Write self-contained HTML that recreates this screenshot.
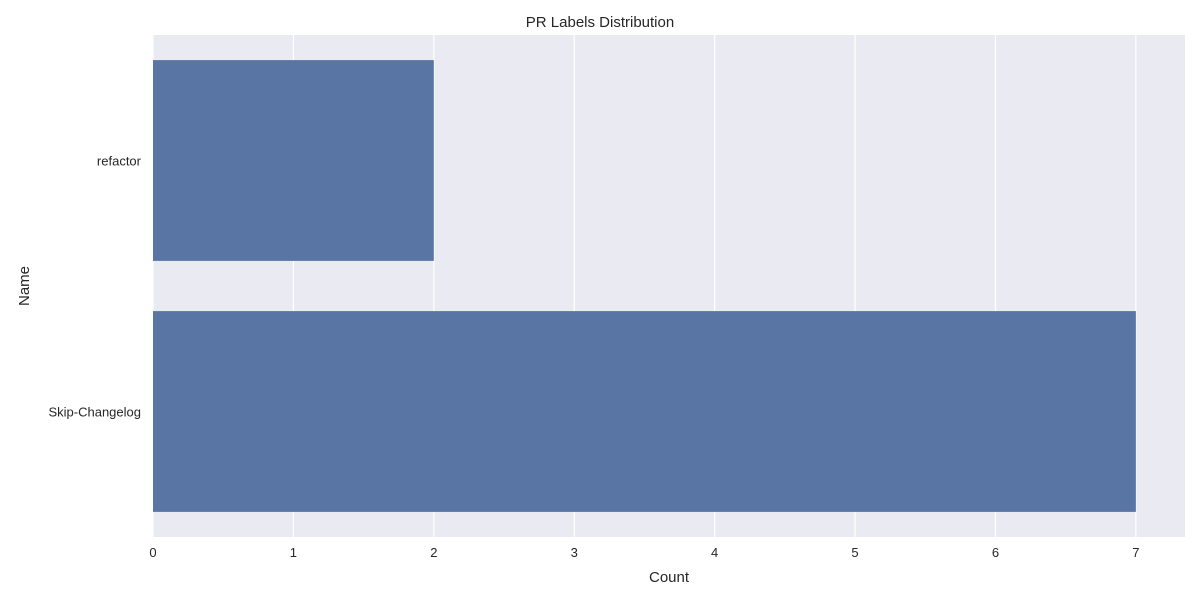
<!DOCTYPE html>
<html><head><meta charset="utf-8"><style>
body{margin:0;background:#fff;font-family:"Liberation Sans","DejaVu Sans",sans-serif;}
</style></head><body>
<svg id="chart" width="1200" height="600" xmlns="http://www.w3.org/2000/svg">
<rect x="153" y="35" width="1032" height="502" fill="#eaeaf2"/>
<g id="grid"></g><g id="bars"></g><g id="xticks"></g><g id="yticks"></g>
<text x="600" y="27" text-anchor="middle" font-size="15" fill="#262626">PR Labels Distribution</text>
<text x="669" y="582" text-anchor="middle" font-size="15" fill="#262626">Count</text>
<text x="29" y="286" text-anchor="middle" font-size="15" fill="#262626" transform="rotate(-90 29 286)">Name</text>
</svg>
<script>
const categories = ["refactor", "Skip-Changelog"];
const counts = [2, 7];
const xTicks = [0, 1, 2, 3, 4, 5, 6, 7];
const NS = "http://www.w3.org/2000/svg";
const L = 153, R = 1185, T = 35, B = 537;
const xMax = Math.max(...counts) * 1.05;
const x = v => L + v / xMax * (R - L);
const band = (B - T) / categories.length;
const yc = i => T + band * (i + 0.5);
const bw = band * 0.8;
function mk(tag, attrs, parent) { const e = document.createElementNS(NS, tag); for (const k in attrs) e.setAttribute(k, attrs[k]); document.getElementById(parent).appendChild(e); return e; }
xTicks.forEach(t => {
  const g = mk("line", {x1: x(t), x2: x(t), y1: T, y2: B, stroke: "#fff", "stroke-width": 1.2}, "grid");
  
  
  const tx = mk("text", {x: x(t), y: B + 20, "text-anchor": "middle", "font-size": 13, fill: "#262626"}, "xticks");
  tx.textContent = t;
  
  
});
categories.forEach((c, i) => {
  const r = mk("rect", {x: x(0), y: yc(i) - bw / 2, width: x(counts[i]) - x(0), height: bw, fill: "#5975a4"}, "bars");
  
  
  const tx = mk("text", {x: L - 12, y: yc(i) + 5, "text-anchor": "end", "font-size": 13, fill: "#262626"}, "yticks");
  tx.textContent = c;
  
  
});
</script>
</body></html>
